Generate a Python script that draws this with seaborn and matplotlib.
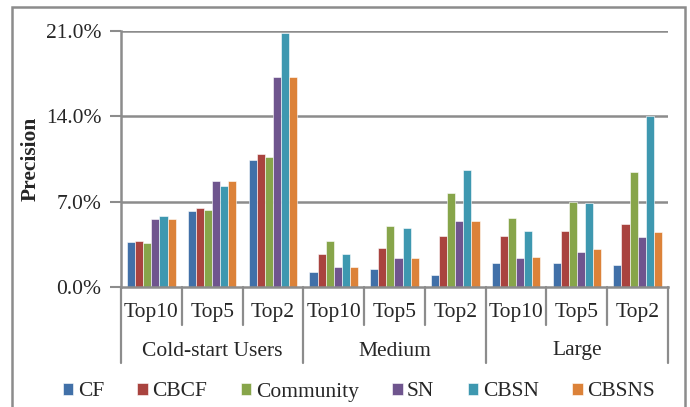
import matplotlib
matplotlib.use("Agg")
import matplotlib.pyplot as plt
import seaborn as sns
import pandas as pd
from matplotlib.lines import Line2D
from matplotlib.patches import Rectangle
from matplotlib.ticker import FuncFormatter

datasets = ["Cold-start Users", "Medium", "Large"]
topn = ["Top10", "Top5", "Top2"]
methods = ["CF", "CBCF", "Community", "SN", "CBSN", "CBSNS"]

# precision (%) per method, ordered Cold-start (Top10, Top5, Top2), Medium (...), Large (...)
cf        = [3.7, 6.2, 10.4, 1.2, 1.5, 1.0, 2.0, 2.0, 1.8]
cbcf      = [3.8, 6.5, 10.9, 2.7, 3.2, 4.2, 4.2, 4.6, 5.2]
community = [3.6, 6.3, 10.7, 3.8, 5.0, 7.7, 5.7, 7.0, 9.4]
sn        = [5.6, 8.7, 17.2, 1.6, 2.4, 5.4, 2.4, 2.9, 4.1]
cbsn      = [5.8, 8.3, 20.8, 2.7, 4.8, 9.6, 4.6, 6.9, 14.0]
cbsns     = [5.6, 8.7, 17.2, 1.6, 2.4, 5.4, 2.5, 3.1, 4.5]

series = [cf, cbcf, community, sn, cbsn, cbsns]
colors = ["#4170A8", "#A9433F", "#87A54A", "#6F558E", "#3E98B0", "#DC8239"]

groups = [f"{d}|{t}" for d in datasets for t in topn]
rows = []
for m, vals in zip(methods, series):
    for g, v in zip(groups, vals):
        rows.append({"group": g, "method": m, "value": v})
df = pd.DataFrame(rows)

sns.set_style("white")
plt.rcParams["font.family"] = ["Liberation Serif", "DejaVu Serif"]

W, H = 690, 407
FS = 15.5
fig = plt.figure(figsize=(W / 100, H / 100), dpi=100)
ax = fig.add_axes([121 / W, 1 - 287 / H, (668 - 121) / W, (287 - 31) / H])

sns.barplot(data=df, x="group", y="value", hue="method", order=groups,
            hue_order=methods, palette=colors, saturation=1, width=0.8,
            edgecolor="white", linewidth=0.4, ax=ax, legend=True)

grid_c = "#8c8c8c"
ax.set_ylim(0, 21)
ax.set_xlim(-0.5, len(groups) - 0.5)
ax.set_yticks([0, 7, 14, 21])
ax.yaxis.set_major_formatter(FuncFormatter(lambda v, p: f"{v:.1f}%"))
ax.tick_params(axis="y", length=8, width=1.5, color=grid_c, labelsize=FS, pad=6,
               left=True)
ax.set_xticks([])
ax.set_xlabel("")
ax.set_ylabel("Precision", fontsize=15.5, fontweight="bold", labelpad=4)
for y in [7, 14, 21]:
    ax.axhline(y, color=grid_c, lw=1.8, zorder=0)
for s in ["top", "right"]:
    ax.spines[s].set_visible(False)
for s in ["left", "bottom"]:
    ax.spines[s].set_color(grid_c)
    ax.spines[s].set_linewidth(1.8)
ax.set_axisbelow(True)

# two-level category axis below the bars
trans = ax.get_xaxis_transform()
y_top = (287 - 313) / 256
y_top_div = (287 - 325) / 256
y_ds = (287 - 351) / 256
y_ds_div = (287 - 363) / 256
for i, t in enumerate(topn * len(datasets)):
    ax.text(i, y_top, t, transform=trans, ha="center", va="center", fontsize=FS)
for j, d in enumerate(datasets):
    ax.text(3 * j + 1, y_ds, d, transform=trans, ha="center", va="center", fontsize=FS)
for k in range(len(groups) + 1):
    bottom = y_ds_div if k % 3 == 0 else y_top_div
    ax.add_line(Line2D([k - 0.5, k - 0.5], [0, bottom], transform=trans,
                       color=grid_c, lw=1.6, clip_on=False))

handles, labels = ax.get_legend_handles_labels()
ax.get_legend().remove()
fig.legend(handles, labels, loc="center", bbox_to_anchor=(0.52, 1 - 392 / H),
           ncol=6, frameon=False, fontsize=FS, handlelength=0.5, handleheight=0.5,
           handletextpad=0.2, columnspacing=1.55)

# outer chart frame
fig.add_artist(Rectangle((12 / W, -0.05), (685 - 12) / W, 1 - 7 / H + 0.05,
                         transform=fig.transFigure, fill=False, edgecolor=grid_c,
                         lw=1.8, clip_on=False))

fig.savefig("out.png", dpi=100)
